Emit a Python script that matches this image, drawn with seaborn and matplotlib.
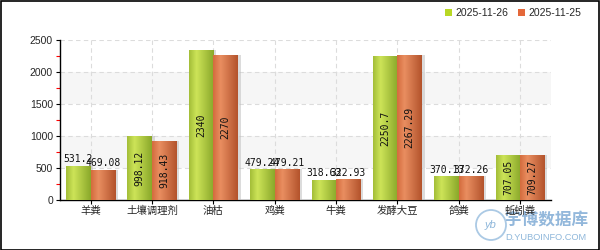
import numpy as np
import pandas as pd
import matplotlib
matplotlib.use("Agg")
import matplotlib.pyplot as plt
import matplotlib.patheffects as pe
from matplotlib.patches import Rectangle, Circle
from matplotlib.ticker import MultipleLocator
import seaborn as sns

categories = ["羊粪", "土壤调理剂", "油枯", "鸡粪", "牛粪", "发酵大豆", "鸽粪", "蚯蚓粪"]
series_names = ["2025-11-26", "2025-11-25"]
values_1126 = [531.2, 998.12, 2340, 479.24, 318.63, 2250.7, 370.13, 707.05]
values_1125 = [469.08, 918.43, 2270, 479.21, 322.93, 2267.29, 372.26, 709.27]
label_1126 = ["531.2", "998.12", "2340", "479.24", "318.63", "2250.7", "370.13", "707.05"]
label_1125 = ["469.08", "918.43", "2270", "479.21", "322.93", "2267.29", "372.26", "709.27"]

df = pd.DataFrame({
    "cat": categories * 2,
    "series": [series_names[0]] * len(categories) + [series_names[1]] * len(categories),
    "value": values_1126 + values_1125,
    "label": label_1126 + label_1125,
})

sns.set_theme(style="white")
plt.rcParams["font.family"] = ["Liberation Sans", "Noto Sans CJK SC", "DejaVu Sans"]

fig = plt.figure(figsize=(6, 2.5), dpi=100)
ax = fig.add_axes([0.1, 0.2, 0.818, 0.64])
ax.patch.set_alpha(0)

palette = {series_names[0]: "#b5d43a", series_names[1]: "#d8703f"}
sns.barplot(data=df, x="cat", y="value", hue="series", order=categories,
            hue_order=series_names, palette=palette, width=0.8, gap=0,
            saturation=1, ax=ax, legend=False, zorder=3, edgecolor="none", linewidth=0)

ax.set_xlim(-0.5, len(categories) - 0.5)
ax.set_ylim(0, 2500)

# background bands and grid
for lo in (500, 1500):
    ax.axhspan(lo, lo + 500, color="#f6f6f6", zorder=0, lw=0)
for y in range(500, 2501, 500):
    ax.axhline(y, color="#dcdcdc", ls=(0, (4, 3)), lw=0.8, zorder=1)
for i in range(len(categories)):
    ax.axvline(i, color="#dcdcdc", ls=(0, (4, 3)), lw=0.8, zorder=1)

# gradients for bars
def grad(c_left, c_high, c_right, n=64):
    cl = np.array(matplotlib.colors.to_rgb(c_left))
    ch = np.array(matplotlib.colors.to_rgb(c_high))
    cr = np.array(matplotlib.colors.to_rgb(c_right))
    t = np.linspace(0, 1, n)
    out = np.zeros((1, n, 3))
    for k, tt in enumerate(t):
        if tt < 0.3:
            f = tt / 0.3
            out[0, k] = cl * (1 - f) + ch * f
        else:
            f = (tt - 0.3) / 0.7
            out[0, k] = ch * (1 - f) + cr * f
    return out

g_green = grad("#a3be38", "#cde458", "#8aa82a")
g_orange = grad("#d46c3e", "#e98e60", "#b3532c")

patches = list(ax.patches)
n = len(categories)
bars_green = patches[:n]
bars_orange = patches[n:2 * n]
for bars, g in ((bars_green, g_green), (bars_orange, g_orange)):
    for p in bars:
        x0 = p.get_x()
        w = p.get_width()
        h = p.get_height()
        p.set_path_effects([pe.SimplePatchShadow(offset=(2, 0), shadow_rgbFace="#bbbbbb", alpha=0.5), pe.Normal()])
        im = ax.imshow(g, extent=(x0, x0 + w, 0, h), aspect="auto", zorder=3.5,
                       interpolation="bilinear")
        im.set_clip_path(p)

ax.set_xlim(-0.5, len(categories) - 0.5)
ax.set_ylim(0, 2500)

# data labels
mono = ["DejaVu Sans Mono"]
for bars, labels in ((bars_green, label_1126), (bars_orange, label_1125)):
    for p, lab in zip(bars, labels):
        cx = p.get_x() + p.get_width() / 2
        h = p.get_height()
        if h > 600:
            ax.text(cx, h / 2, lab, rotation=90, ha="center", va="center",
                    fontsize=7, family=mono, color="#111111", zorder=5)
        else:
            ax.text(cx, h + 25, lab, ha="center", va="bottom",
                    fontsize=7, family=mono, color="#111111", zorder=5)

# axes styling
for s in ("top", "right"):
    ax.spines[s].set_visible(False)
for s in ("left", "bottom"):
    ax.spines[s].set_color("black")
    ax.spines[s].set_linewidth(1)
ax.yaxis.set_major_locator(MultipleLocator(500))
ax.yaxis.set_minor_locator(MultipleLocator(250))
ax.tick_params(axis="y", which="major", length=3, width=0.8, color="black",
               labelsize=7.5, pad=2, left=True)
ax.tick_params(axis="y", which="minor", length=3, width=0.8, color="red", left=True)
ax.tick_params(axis="x", which="major", length=3, width=0.8, color="black",
               labelsize=7.5, pad=1, bottom=True)
for t in ax.get_xticklabels():
    t.set_family(["Noto Sans CJK SC", "DejaVu Sans"])
ax.set_xlabel("")
ax.set_ylabel("")

# legend
handles = [Rectangle((0, 0), 1, 1, facecolor="#b8d824", edgecolor="none"),
           Rectangle((0, 0), 1, 1, facecolor="#e4683a", edgecolor="none")]
fig.legend(handles, series_names, loc="upper right", bbox_to_anchor=(0.975, 0.985),
           ncol=2, frameon=False, fontsize=7.5, handlelength=0.7, handleheight=0.7,
           handletextpad=0.3, columnspacing=0.9, borderaxespad=0)

# watermark (drawn beneath the transparent axes)
fig.patches.append(Circle((4.91, 0.25), 0.15, transform=fig.dpi_scale_trans,
                          facecolor="none", edgecolor="#9cc0e0", lw=1.3, figure=fig,
                          alpha=0.85, zorder=-1))
fig.text(0.818, 0.1, "yb", ha="center", va="center", fontsize=8, color="#7aaad4",
         style="italic", alpha=0.85, zorder=-1)
fig.text(0.842, 0.118, "宇博数据库", ha="left", va="center", fontsize=12,
         color="#6fa0d0", family=["Noto Sans CJK SC", "DejaVu Sans"], weight="bold",
         alpha=0.75, zorder=-1)
fig.text(0.842, 0.05, "D.YUBOINFO.COM", ha="left", va="center", fontsize=6.7,
         color="#7aaad4", alpha=0.85, zorder=-1)

# figure border
fig.patches.append(Rectangle((0.001, 0.002), 0.997, 0.995, transform=fig.transFigure,
                             facecolor="none", edgecolor="black", lw=1.2, figure=fig))

fig.savefig("out.png", dpi=100)
